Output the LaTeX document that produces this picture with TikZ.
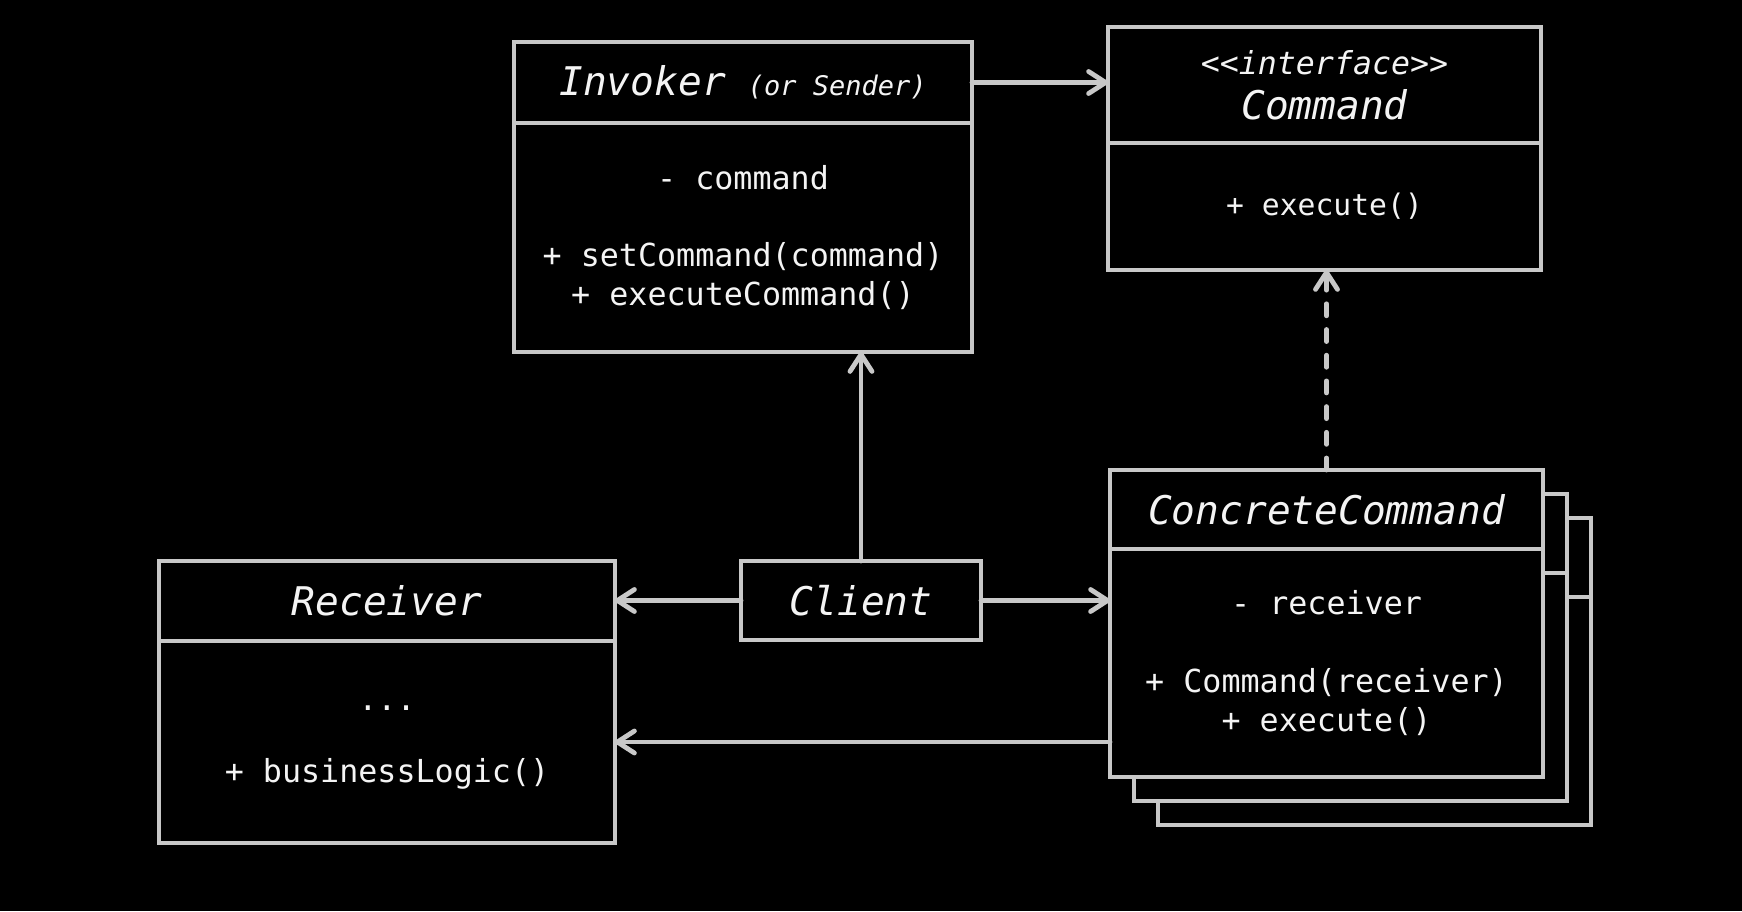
\documentclass[tikz,border=0pt]{standalone}
\usepackage{fontspec}
\usetikzlibrary{arrows.meta}
\newfontfamily\monof{DejaVu Sans Mono}[Ligatures=TeXOff]
\definecolor{edge}{HTML}{C8C8C8}
\definecolor{ink}{HTML}{F4F4F4}
% class names, stereotype, side note and member lines
\newcommand\titletext{\monof\itshape\fontsize{39.5pt}{40pt}\selectfont}
\newcommand\stereotext{\monof\itshape\fontsize{31.6pt}{40pt}\selectfont}
\newcommand\notetext{\monof\itshape\fontsize{27pt}{32pt}\selectfont}
\newcommand\membertext{\monof\fontsize{31.7pt}{38.5pt}\selectfont}
\newcommand\smallmembertext{\monof\fontsize{29.7pt}{36pt}\selectfont}
\begin{document}
\begin{tikzpicture}[x=1pt,y=-1pt,
  box/.style={draw=edge, line width=4.8pt, fill=black, text=ink, inner sep=0pt,
              outer sep=0pt, align=center, anchor=north west},
  titlebox/.style={box, font=\titletext},
  memberbox/.style={box, font=\membertext},
  link/.style={draw=edge, line width=4.8pt, line cap=round,
               -{Straight Barb[length=17pt,width=22pt,round]}},
  realize/.style={link, dash pattern=on 12pt off 13.7pt}]
\fill[black] (0,0) rectangle (1742,911);
\useasboundingbox (0,0) rectangle (1742,911);

% Invoker
\node[titlebox, minimum width=458pt, minimum height=81pt] (invH) at (514,42)
  {Invoker\hspace{22pt}{\notetext (or Sender)}};
\node[memberbox, minimum width=458pt, minimum height=229pt] (invB) at (514,123)
  {- command\\[38.5pt]+ setCommand(command)\\+ executeCommand()};

% Command interface
\node[titlebox, minimum width=433pt, minimum height=116pt] (cmdH) at (1108,27)
  {{\stereotext <<interface>>}\\[5pt]Command};
\node[box, font=\smallmembertext, minimum width=433pt, minimum height=127pt] (cmdB) at (1108,143)
  {+ execute()};

% stacked ConcreteCommand copies behind the front one
\node[box, minimum width=433pt, minimum height=79pt] (cc3H) at (1158,518) {};
\node[box, minimum width=433pt, minimum height=228pt] (cc3B) at (1158,597) {};
\node[box, minimum width=433pt, minimum height=79pt] (cc2H) at (1134,494) {};
\node[box, minimum width=433pt, minimum height=228pt] (cc2B) at (1134,573) {};

% ConcreteCommand
\node[titlebox, minimum width=433pt, minimum height=79pt] (ccH) at (1110,470)
  {ConcreteCommand};
\node[memberbox, minimum width=433pt, minimum height=228pt] (ccB) at (1110,549)
  {- receiver\\[39.5pt]+ Command(receiver)\\+ execute()};

% Receiver
\node[titlebox, minimum width=456pt, minimum height=80pt] (recH) at (159,561)
  {Receiver};
\node[memberbox, minimum width=456pt, minimum height=202pt] (recB) at (159,641)
  {\rule{0pt}{16pt}...\\[34pt]+ businessLogic()};

% Client
\node[titlebox, minimum width=240pt, minimum height=79pt] (cli) at (741,561)
  {Client};

% associations
\draw[link] (invH.east) -- (invH.east -| cmdH.west);
\draw[link] (cli.north) -- (cli.north |- invB.south);
\draw[link] (cli.west) -- (cli.west -| recH.east);
\draw[link] (cli.east) -- (cli.east -| ccB.west);
\draw[link] (ccB.west |- recB.east) -- (recB.east);
% implementation
\draw[realize] (ccH.north) -- (ccH.north |- cmdB.south);
\end{tikzpicture}
\end{document}
